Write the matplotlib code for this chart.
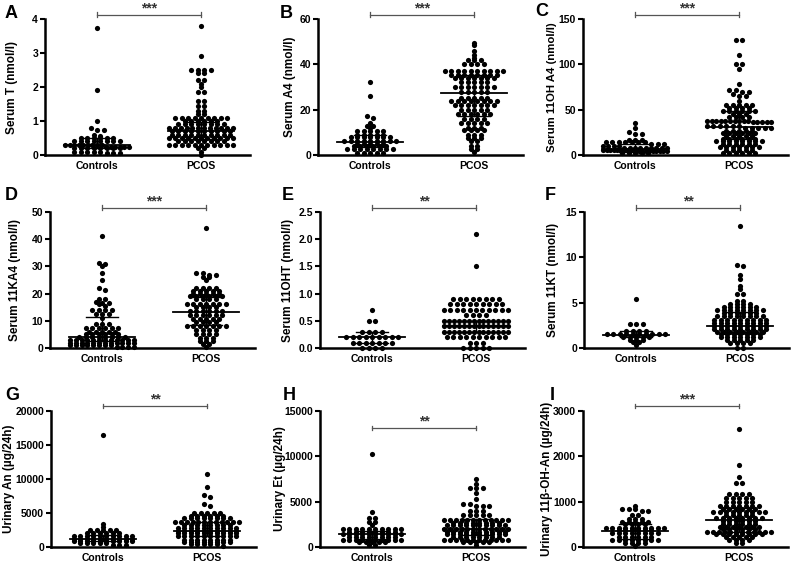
import numpy as np
import matplotlib
matplotlib.use("Agg")
import matplotlib.pyplot as plt

plt.rcParams['font.family'] = ['Liberation Sans', 'DejaVu Sans']
plt.rcParams['font.weight'] = 'bold'

groups = ['Controls', 'PCOS']

# each group: row values and number of dots in that row
# A  serum T
t_ctrl_v = [3.75, 1.9, 1.0, 0.78, 0.75, 0.58, 0.55, 0.5, 0.4, 0.3, 0.25, 0.2, 0.1, 0.05]
t_ctrl_n = [1, 1, 1, 1, 2, 1, 1, 6, 8, 9, 6, 8, 5, 3]
t_pcos_v = [3.8, 2.9, 2.5, 2.4, 2.2, 2.1, 2.0, 1.85, 1.6, 1.45, 1.3, 1.2, 1.1, 1.0,
            0.9, 0.8, 0.7, 0.6, 0.5, 0.4, 0.3, 0.2, 0.1, 0.0]
t_pcos_n = [1, 1, 4, 2, 2, 1, 1, 2, 2, 2, 2, 2, 9, 6, 8, 12, 10, 10, 11, 8, 11, 2, 1, 1]
# B  serum A4
a4_ctrl_v = [32, 26, 17, 16.5, 14, 13, 12, 10.5, 9, 8, 6, 5, 4, 2.5, 1]
a4_ctrl_n = [1, 1, 1, 1, 1, 2, 1, 5, 5, 7, 9, 5, 6, 8, 5]
a4_pcos_v = [49.5, 48.5, 46, 44, 43, 42, 40, 37, 35.5, 34, 32, 30, 28, 25, 24, 22, 20,
             18, 16, 14, 12, 11, 9, 7.5, 6, 4, 2.5, 1.5]
a4_pcos_n = [1, 1, 1, 1, 1, 3, 4, 10, 8, 7, 5, 7, 5, 5, 8, 7, 5, 6, 4, 5, 3, 4, 3, 3, 2, 2, 2, 1]
# C  serum 11OH A4
oha4_ctrl_v = [35, 30, 25, 23, 17, 16, 14, 12, 10, 8, 6, 4, 2]
oha4_ctrl_n = [1, 1, 1, 2, 2, 1, 7, 3, 4, 9, 10, 9, 5]
oha4_pcos_v = [127, 110, 100, 95, 78, 72, 70, 67, 65, 60, 55, 52, 48, 45, 42, 38, 36,
               32, 30, 27, 24, 21, 18, 15, 12, 9, 5, 2]
oha4_pcos_n = [2, 1, 2, 1, 1, 2, 2, 1, 2, 1, 5, 4, 6, 3, 4, 10, 5, 6, 5, 5, 6, 5, 6, 8, 6, 7, 5, 6]
# D  serum 11KA4
ka4_ctrl_v = [41, 31.3, 30.8, 30, 27.5, 25, 22, 21.5, 18, 17, 16.5, 16, 15.5, 14, 12.5,
              11, 9, 7.5, 6, 5, 4, 3, 2, 1, 0.5]
ka4_ctrl_n = [1, 1, 1, 1, 1, 1, 1, 1, 2, 1, 2, 1, 1, 4, 3, 1, 3, 6, 5, 6, 8, 12, 12, 8, 4]
ka4_pcos_v = [44, 27.5, 27, 26, 25, 22, 21, 20, 19, 18, 16, 15, 13.5, 12, 10.5, 9.5, 8,
              6.5, 5, 3.5, 2.5, 1.5, 0.5]
ka4_pcos_n = [1, 2, 2, 2, 1, 4, 5, 5, 6, 4, 7, 4, 6, 6, 5, 4, 7, 4, 4, 3, 3, 2, 1]
# E  serum 11OHT
oht_ctrl_v = [0.7, 0.5, 0.3, 0.2, 0.1, 0.0]
oht_ctrl_n = [1, 2, 4, 9, 7, 4]
oht_pcos_v = [2.1, 1.5, 0.9, 0.8, 0.7, 0.6, 0.5, 0.4, 0.3, 0.2, 0.1, 0.0]
oht_pcos_n = [1, 1, 8, 9, 11, 4, 14, 14, 14, 10, 3, 5]
# F  serum 11KT
kt_ctrl_v = [5.4, 2.7, 2.6, 1.85, 1.55, 1.2, 0.9, 0.65, 0.3]
kt_ctrl_n = [1, 1, 2, 4, 10, 5, 3, 2, 1]
kt_pcos_v = [13.5, 9.2, 9.0, 8.0, 7.6, 6.8, 6.5, 6.0, 5.2, 4.8, 4.5, 4.2, 3.9, 3.5, 3.1,
             2.75, 2.4, 2.1, 1.8, 1.5, 1.2, 0.9, 0.6, 0.0]
kt_pcos_n = [1, 1, 1, 1, 1, 1, 1, 2, 2, 4, 6, 8, 6, 8, 9, 9, 9, 9, 8, 7, 7, 5, 4, 2]
# G  urinary An
an_ctrl_v = [16500, 3400, 3000, 2500, 2050, 1650, 1250, 900, 550, 250]
an_ctrl_n = [1, 1, 1, 5, 6, 10, 10, 10, 5, 3]
an_pcos_v = [10700, 8800, 7700, 7400, 6300, 6000, 5000, 4600, 4200, 3700, 3300, 2800,
             2400, 2000, 1650, 1100, 750, 400, 150]
an_pcos_n = [1, 1, 1, 1, 1, 1, 5, 6, 8, 12, 8, 10, 10, 10, 10, 8, 8, 5, 1]
# H  urinary Et
et_ctrl_v = [10300, 3900, 3200, 2800, 2400, 2000, 1700, 1400, 1100, 800, 500, 200]
et_ctrl_n = [1, 1, 2, 2, 1, 10, 8, 10, 8, 10, 5, 2]
et_pcos_v = [7500, 7000, 6500, 6000, 5300, 4700, 4500, 4000, 3500, 3000, 2700, 2400,
             2000, 1700, 1400, 1100, 800, 500, 250]
et_pcos_n = [1, 1, 3, 1, 1, 2, 3, 3, 5, 12, 8, 10, 12, 10, 10, 8, 12, 5, 1]
# I  urinary 11b-OH-An
ohan_ctrl_v = [900, 830, 800, 700, 620, 550, 500, 430, 380, 300, 230, 150, 80, 30]
ohan_ctrl_n = [1, 3, 2, 2, 3, 5, 4, 10, 6, 8, 6, 8, 4, 1]
ohan_pcos_v = [2600, 1800, 1550, 1420, 1180, 1080, 1000, 900, 840, 780, 700, 630, 570,
               510, 450, 390, 340, 280, 220, 150, 80]
ohan_pcos_n = [1, 1, 1, 2, 4, 5, 5, 7, 6, 9, 5, 8, 6, 6, 7, 6, 12, 8, 5, 4, 2]

# median, q1, q3  (controls, pcos)
t_stats = [(0.3, 0.22, 0.5), (0.7, 0.46, 0.98)]
a4_stats = [(5.9, 3.7, 8.8), (27.2, 17.4, 35.3)]
oha4_stats = [(6.6, 3.7, 12.1), (31.3, 17.3, 48.5)]
ka4_stats = [(3.9, 2.4, 11.3), (13.1, 8.3, 18.75)]
oht_stats = [(0.2, 0.1, 0.3), (0.4, 0.3, 0.5)]
kt_stats = [(1.47, 1.18, 1.84), (2.43, 1.8, 3.97)]
an_stats = [(1225, 833, 1715), (2400, 1570, 3680)]
et_stats = [(1390, 915, 1756), (2012, 1317, 3073)]
ohan_stats = [(353, 176, 515), (603, 338, 868)]

panels = [
    ('A', 'Serum T (nmol/l)', [0, 1, 2, 3, 4], t_ctrl_v, t_ctrl_n, t_pcos_v, t_pcos_n, t_stats, '***'),
    ('B', 'Serum A4 (nmol/l)', [0, 20, 40, 60], a4_ctrl_v, a4_ctrl_n, a4_pcos_v, a4_pcos_n, a4_stats, '***'),
    ('C', 'Serum 11OH A4 (nmol/l)', [0, 50, 100, 150], oha4_ctrl_v, oha4_ctrl_n, oha4_pcos_v, oha4_pcos_n, oha4_stats, '***'),
    ('D', 'Serum 11KA4 (nmol/l)', [0, 10, 20, 30, 40, 50], ka4_ctrl_v, ka4_ctrl_n, ka4_pcos_v, ka4_pcos_n, ka4_stats, '***'),
    ('E', 'Serum 11OHT (nmol/l)', [0.0, 0.5, 1.0, 1.5, 2.0, 2.5], oht_ctrl_v, oht_ctrl_n, oht_pcos_v, oht_pcos_n, oht_stats, '**'),
    ('F', 'Serum 11KT (nmol/l)', [0, 5, 10, 15], kt_ctrl_v, kt_ctrl_n, kt_pcos_v, kt_pcos_n, kt_stats, '**'),
    ('G', 'Urinary An (µg/24h)', [0, 5000, 10000, 15000, 20000], an_ctrl_v, an_ctrl_n, an_pcos_v, an_pcos_n, an_stats, '**'),
    ('H', 'Urinary Et (µg/24h)', [0, 5000, 10000, 15000], et_ctrl_v, et_ctrl_n, et_pcos_v, et_pcos_n, et_stats, '**'),
    ('I', 'Urinary 11β-OH-An (µg/24h)', [0, 1000, 2000, 3000], ohan_ctrl_v, ohan_ctrl_n, ohan_pcos_v, ohan_pcos_n, ohan_stats, '***'),
]

W, H = 793, 563
lefts = [45, 318, 583, 50, 320, 584, 51, 320, 583]
tops = [19, 19, 19, 212, 212, 212, 411, 411, 411]
label_off = [33, 28, 31, 35, 32, 31, 42, 40, 36]   # px from y axis to label centre
letter_xy = [(5, 13), (280, 13), (535, 12), (5, 196), (282, 196), (545, 196),
             (5, 395), (283, 395), (550, 395)]
bar_y = [1.03, 1.03, 1.03, 1.03, 1.03, 1.03, 1.037, 0.875, 1.037]
AW, AH = 205, 136
XL = (-0.5, 1.47)


def swarm(vals, ppy, ppx, gap=6.5, maxw=64.0, hb=2.2):
    # GraphPad-like rows: close values share a row, row centred on the group
    y = np.sort(np.asarray(vals, float))[::-1]
    ypx = y * ppy
    rows = []
    for i, yy in enumerate(ypx):
        if rows and ypx[rows[-1][0]] - yy < hb:
            rows[-1].append(i)
        else:
            rows.append([i])
    x = np.zeros(len(y))
    for r in rows:
        n = len(r)
        if n > 1:
            s = min(gap, maxw / (n - 1))
            x[r] = (np.arange(n) - (n - 1) / 2) * s
    return x / ppx, y


fig = plt.figure(figsize=(W / 100, H / 100), dpi=100)

for k, (letter, ylab, yt, cv, cn, pv, pn, stats, stars) in enumerate(panels):
    ax = fig.add_axes([lefts[k] / W, 1 - (tops[k] + AH) / H, AW / W, AH / H])
    ymax = yt[-1]
    ax.set_xlim(*XL)
    ax.set_ylim(0, ymax)
    ppx = ax.bbox.width / (XL[1] - XL[0])
    ppy = ax.bbox.height / ymax
    for g, (v, n) in enumerate([(cv, cn), (pv, pn)]):
        vals = np.repeat(v, n)
        dx, yy = swarm(vals, ppy, ppx)
        ax.scatter(g + dx, yy, s=14, color='black', linewidths=0, clip_on=False, zorder=2)
        med, q1, q3 = stats[g]
        ax.plot([g - 0.32, g + 0.32], [med, med], color='black', lw=1.3, zorder=3)
        ax.plot([g, g], [q1, q3], color='black', lw=1.0, zorder=3)
        for q in (q1, q3):
            ax.plot([g - 0.15, g + 0.15], [q, q], color='black', lw=1.0, zorder=3)

    tr = ax.get_xaxis_transform()
    yb = bar_y[k]
    ax.plot([0, 1], [yb, yb], color='#555555', lw=0.9, transform=tr, clip_on=False)
    for xe in (0, 1):
        ax.plot([xe, xe], [yb - 0.018, yb + 0.018], color='#555555', lw=0.9,
                transform=tr, clip_on=False)
    ax.text(0.5, yb + 0.05, stars, ha='center', va='center', fontsize=10,
            color='#333333', transform=tr)

    for side in ('top', 'right'):
        ax.spines[side].set_visible(False)
    for side in ('left', 'bottom'):
        ax.spines[side].set_linewidth(1.8)
    ax.set_xticks([0, 1])
    ax.set_xticklabels(groups, fontsize=7.5, fontweight='bold')
    ax.tick_params(axis='x', length=0, pad=4)
    ax.set_yticks(yt)
    if letter == 'E':
        ax.set_yticklabels(['%.1f' % t for t in yt])
    ax.tick_params(axis='y', length=3.5, width=1.5, labelsize=7.5, pad=1.5)
    ax.set_ylabel(ylab, fontsize=8.5 if letter != 'C' else 8.2, fontweight='bold', va='center')
    ax.yaxis.set_label_coords(-label_off[k] / AW, 0.5)

    lx, ly = letter_xy[k]
    fig.text(lx / W, 1 - ly / H, letter, fontsize=13, fontweight='bold',
             ha='left', va='center')

fig.savefig('out.png', dpi=100)
